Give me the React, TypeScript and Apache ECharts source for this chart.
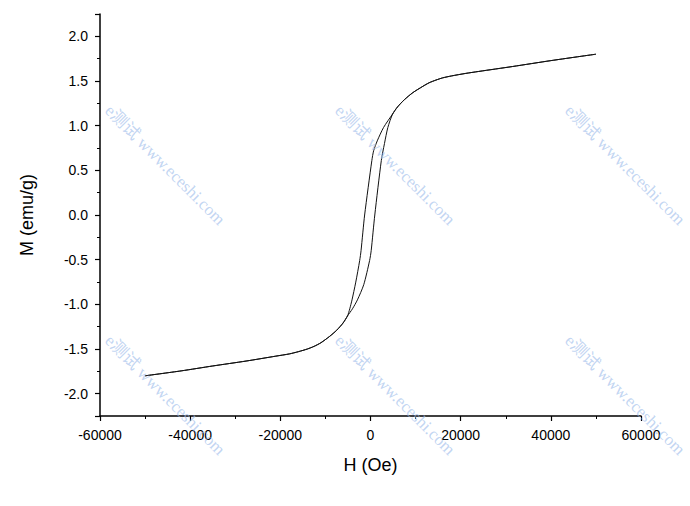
import React, { useEffect, useRef } from "react";
import * as echarts from "echarts";

// Descending branch (H from +50000 Oe to -50000 Oe)
const descH = [50000, 40000, 31500, 24000, 21000, 18000, 16000, 14500, 13000, 11600, 9400, 7500, 6000, 4900, 2900, 1500, 700, 300, -1300, -2100, -2400, -3300, -4100, -4600, -5100, -6100, -7500, -9100, -11000, -12500, -14000, -16000, -18000, -21000, -27600, -35000, -42000, -50000];
const descM = [1.80, 1.728, 1.662, 1.607, 1.584, 1.557, 1.535, 1.51, 1.48, 1.44, 1.37, 1.29, 1.21, 1.13, 0.98, 0.83, 0.72, 0.61, 0.0, -0.40, -0.51, -0.76, -0.95, -1.05, -1.13, -1.21, -1.29, -1.36, -1.43, -1.47, -1.50, -1.53, -1.555, -1.58, -1.635, -1.69, -1.745, -1.80];

// Ascending branch (H from -50000 Oe to +50000 Oe)
const ascH = [-50000, -42000, -35000, -27600, -21000, -18000, -16000, -14000, -12500, -11000, -9100, -7500, -6100, -5100, -4000, -2900, -1500, -200, 150, 950, 2400, 3100, 3850, 4900, 6000, 7500, 9400, 11600, 13000, 14500, 16000, 18000, 21000, 24000, 31500, 40000, 50000];
const ascM = [-1.80, -1.745, -1.69, -1.635, -1.58, -1.555, -1.53, -1.50, -1.47, -1.43, -1.36, -1.29, -1.21, -1.13, -1.05, -0.95, -0.78, -0.51, -0.40, 0.0, 0.61, 0.80, 0.98, 1.13, 1.21, 1.29, 1.37, 1.44, 1.48, 1.51, 1.535, 1.557, 1.584, 1.607, 1.662, 1.728, 1.80];

const xAxisName = "H (Oe)";
const yAxisName = "M (emu/g)";
const watermarkText = "e测试 www.eceshi.com";

export default function App() {
  const ref = useRef<HTMLDivElement>(null);

  useEffect(() => {
    if (!ref.current) return;
    const chart = echarts.init(ref.current, undefined, { renderer: "svg" });
    const loop: number[][] = [];
    descH.forEach((h, i) => loop.push([h, descM[i]]));
    ascH.forEach((h, i) => loop.push([h, ascM[i]]));

    const wmCenters = [
      [165, 165], [395, 165], [625, 165],
      [165, 395], [395, 395], [625, 395],
    ];
    const font = "'Liberation Sans', Arial, sans-serif";

    chart.setOption({
      animation: false,
      backgroundColor: "#ffffff",
      grid: { left: 100, right: 49, top: 14, bottom: 90, containLabel: false },
      xAxis: {
        type: "value",
        min: -60000,
        max: 60000,
        interval: 20000,
        name: xAxisName,
        nameLocation: "middle",
        nameGap: 40,
        nameTextStyle: { color: "#000", fontSize: 18, fontFamily: font },
        axisLine: { show: true, onZero: false, lineStyle: { color: "#000", width: 1.5 } },
        axisTick: { show: true, inside: false, length: 5, lineStyle: { color: "#000", width: 1.2 } },
        minorTick: { show: true, splitNumber: 2, length: 3, lineStyle: { color: "#000", width: 1 } },
        splitLine: { show: false },
        axisLabel: { color: "#000", fontSize: 14, fontFamily: font, margin: 12, formatter: (v: number) => String(v) },
      },
      yAxis: {
        type: "value",
        min: -2.25,
        max: 2.25,
        splitNumber: 9,
        name: yAxisName,
        nameLocation: "middle",
        nameGap: 64,
        nameTextStyle: { color: "#000", fontSize: 18, fontFamily: font },
        axisLine: { show: true, onZero: false, lineStyle: { color: "#000", width: 1.5 } },
        axisTick: { show: true, inside: false, length: 5, lineStyle: { color: "#000", width: 1.2 } },
        minorTick: { show: true, splitNumber: 2, length: 3, lineStyle: { color: "#000", width: 1 } },
        splitLine: { show: false },
        axisLabel: {
          color: "#000",
          fontSize: 14,
          fontFamily: font,
          margin: 12,
          showMinLabel: false,
          showMaxLabel: false,
          formatter: (v: number) => (Math.abs(v * 2 - Math.round(v * 2)) < 1e-6 ? v.toFixed(1) : ""),
        },
      },
      series: [
        {
          type: "line",
          data: loop,
          showSymbol: false,
          smooth: 0.25,
          lineStyle: { color: "#111", width: 1 },
        },
      ],
      graphic: wmCenters.map(([cx, cy]) => ({
        type: "text",
        x: cx,
        y: cy,
        rotation: -Math.PI / 4,
        silent: true,
        z: 100,
        style: {
          text: watermarkText,
          fill: "rgba(160,190,235,0.65)",
          font: "17px 'Liberation Serif', 'Noto Sans CJK SC', serif",
          align: "center",
          verticalAlign: "middle",
        },
      })),
    });
    return () => chart.dispose();
  }, []);

  return <div ref={ref} style={{ width: 690, height: 506, position: "absolute", left: 0, top: 0 }} />;
}
